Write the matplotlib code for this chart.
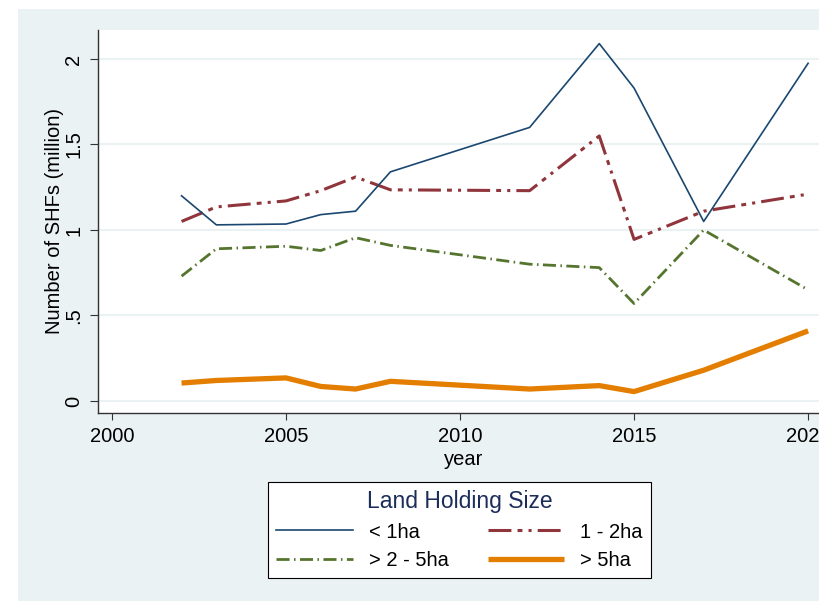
import matplotlib
matplotlib.use("Agg")
import matplotlib.pyplot as plt
from matplotlib.patches import Rectangle

plt.rcParams['font.family'] = ['Liberation Sans', 'DejaVu Sans']

years = [2002, 2003, 2005, 2006, 2007, 2008, 2012, 2014, 2015, 2017, 2020]
lt1 = [1.20, 1.03, 1.035, 1.09, 1.11, 1.34, 1.60, 2.09, 1.83, 1.05, 1.975]
h1_2 = [1.05, 1.135, 1.17, 1.23, 1.31, 1.235, 1.23, 1.55, 0.945, 1.11, 1.21]
h2_5 = [0.73, 0.89, 0.905, 0.88, 0.955, 0.91, 0.80, 0.78, 0.57, 1.00, 0.65]
gt5 = [0.105, 0.12, 0.135, 0.085, 0.07, 0.115, 0.07, 0.09, 0.055, 0.18, 0.41]

labels = ['< 1ha', '1 - 2ha', '> 2 - 5ha', '> 5ha']
yticks = [0, 0.5, 1, 1.5, 2]
yticklabels = ['0', '.5', '1', '1.5', '2']
xticks = [2000, 2005, 2010, 2015, 2020]

W, H = 820, 601
fig = plt.figure(figsize=(W / 100, H / 100), dpi=100)
fig.patch.set_facecolor('white')
bg = Rectangle((18 / W, 0), 1 - 18 / W, (H - 9) / H, transform=fig.transFigure,
               facecolor='#EAF2F3', edgecolor='none', zorder=-10)
fig.patches.append(bg)

ax_l, ax_r, ax_t, ax_b = 98, 829, 30, 413
ax = fig.add_axes([ax_l / W, (H - ax_b) / H, (ax_r - ax_l) / W, (ax_b - ax_t) / H])
ax.set_facecolor('white')

c_navy = '#1a476f'
c_maroon = '#90353b'
c_green = '#55752f'
c_orange = '#e37e00'

h_a, = ax.plot(years, lt1, color=c_navy, lw=1.2, label=labels[0], zorder=5)
h_b, = ax.plot(years, h1_2, color=c_maroon, lw=2.2, label=labels[1], zorder=4)
h_b.set_dashes([7.5, 2.0, 1.6, 2.0, 1.0, 2.0])
h_c, = ax.plot(years, h2_5, color=c_green, lw=2.0, label=labels[2], zorder=3)
h_c.set_dashes([4.7, 1.6, 0.55, 1.6])
h_d, = ax.plot(years, gt5, color=c_orange, lw=3.8, label=labels[3], zorder=2,
               solid_capstyle='butt')

FS = 14.5
ax.set_xlim(1999.6, 2020.6)
ax.set_ylim(-0.0702, 2.1696)
ax.set_yticks(yticks)
ax.set_yticklabels(yticklabels, rotation=90, va='center')
ax.set_xticks(xticks)
ax.grid(axis='y', color='#EAF2F3', lw=1.5)
ax.set_axisbelow(True)
for s in ['top', 'right']:
    ax.spines[s].set_visible(False)
for s in ['left', 'bottom']:
    ax.spines[s].set_color('#333333')
    ax.spines[s].set_linewidth(1.0)
ax.tick_params(axis='y', length=5.5, width=0.8, pad=5, labelsize=FS, color='#333333')
ax.tick_params(axis='x', length=5.0, width=0.8, pad=5, labelsize=FS, color='#333333')
ax.set_xlabel('year', fontsize=FS, labelpad=3)
ax.set_ylabel('Number of SHFs (million)', fontsize=FS, labelpad=0)

handles = [h_a, h_c, h_b, h_d]
leg = fig.legend(handles, [h.get_label() for h in handles],
                 loc='center', bbox_to_anchor=(268 / W, (H - 578) / H, 383 / W, 96 / H),
                 mode='expand', ncol=2, title='Land Holding Size',
                 fontsize=FS, title_fontsize=16.5, handlelength=3.8,
                 frameon=True, fancybox=False, borderaxespad=0, framealpha=1,
                 facecolor='white', borderpad=0.4,
                 columnspacing=1.1, handletextpad=0.8, labelspacing=0.45)
leg.get_frame().set_edgecolor('black')
leg.get_frame().set_linewidth(0.8)
leg.get_title().set_color('#1c2d5a')

fig.savefig('out.png', dpi=100)
